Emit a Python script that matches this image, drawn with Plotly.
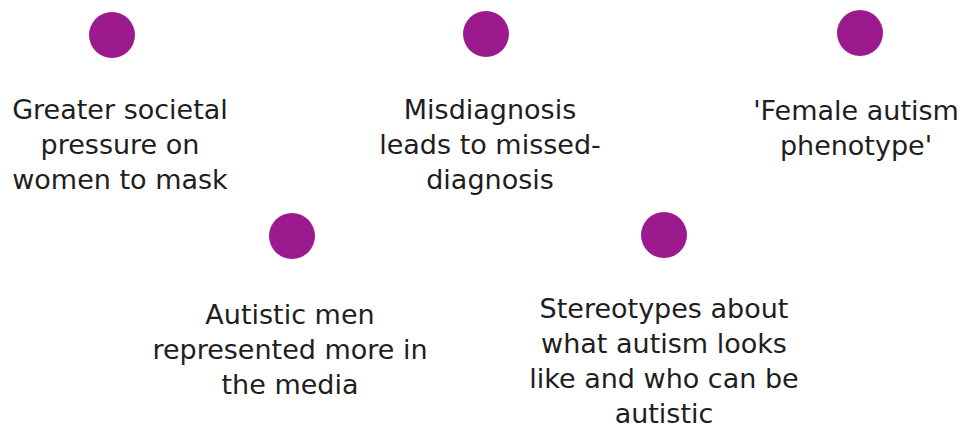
import plotly.graph_objects as go

# Content
labels = [
    "Greater societal<br>pressure on<br>women to mask",
    "Misdiagnosis<br>leads to missed-<br>diagnosis",
    "'Female autism<br>phenotype'",
    "Autistic men<br>represented more in<br>the media",
    "Stereotypes about<br>what autism looks<br>like and who can be<br>autistic",
]

# Layout (pixel-like canvas coordinates)
dot_x = [112, 486, 860, 292, 664]
dot_y = [35, 34, 33, 236, 235]
text_x = [120, 490, 856, 290, 664]
text_y = [147, 147, 131, 352, 364]

DOT = "#9b1b8e"
INK = "#1e1e1e"

fig = go.Figure()
fig.add_trace(go.Scatter(
    x=dot_x, y=dot_y, mode="markers",
    marker=dict(size=46, color=DOT, line=dict(width=0)),
    hoverinfo="skip", showlegend=False,
))
fig.add_trace(go.Scatter(
    x=text_x, y=text_y, mode="text", text=labels,
    textposition="middle center",
    textfont=dict(family="'DejaVu Sans', sans-serif", size=27, color=INK),
    hoverinfo="skip", showlegend=False, cliponaxis=False,
))
# body has an 8px default margin in the page: shift the canvas so coordinates match
fig.update_layout(
    width=966, height=428,
    margin=dict(l=0, r=0, t=0, b=0),
    paper_bgcolor="white", plot_bgcolor="white",
    xaxis=dict(range=[8, 974], visible=False, fixedrange=True),
    yaxis=dict(range=[436, 8], visible=False, fixedrange=True),
)
fig.write_html("out.html")
